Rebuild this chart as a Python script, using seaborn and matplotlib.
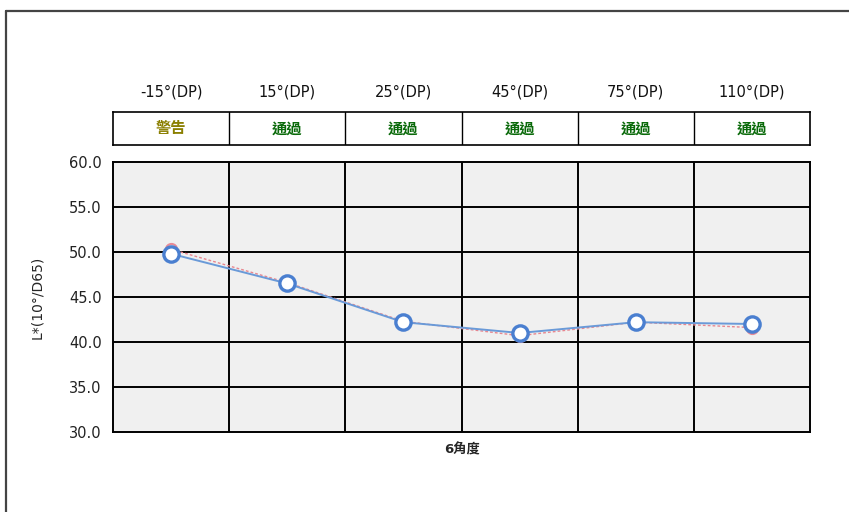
import numpy as np
import pandas as pd
import matplotlib
matplotlib.use("Agg")
import matplotlib.pyplot as plt
import seaborn as sns

# chart data
angles = ["-15°(DP)", "15°(DP)", "25°(DP)", "45°(DP)", "75°(DP)", "110°(DP)"]
status = ["警告", "通過", "通過", "通過", "通過", "通過"]
sample_L = [49.8, 46.5, 42.2, 41.0, 42.2, 42.0]
standard_L = [50.3, 46.6, 42.3, 40.7, 42.2, 41.6]
y_ticks = [30, 35, 40, 45, 50, 55, 60]

status_colors = {"警告": "#8a7f00", "通過": "#0a6a0a"}

sns.set_theme(style="white")
plt.rcParams["font.family"] = ["DejaVu Sans", "Noto Sans CJK TC"]

df = pd.DataFrame({
    "pos": np.arange(len(angles)),
    "sample": sample_L,
    "standard": standard_L,
})

fig = plt.figure(figsize=(8.49, 5.12), dpi=100)
ax = fig.add_axes([0.1331, 0.1563, 0.821, 0.5273])
ax_head = fig.add_axes([0.1331, 0.7168, 0.821, 0.0645])

# main plot
ax.set_facecolor("#f0f0f0")
sns.lineplot(data=df, x="pos", y="standard", ax=ax, color="#e8868f",
             linestyle=(0, (2, 1.5)), linewidth=1.0, marker="o",
             markersize=8, markerfacecolor="white", markeredgecolor="#e88a96",
             markeredgewidth=1.5, zorder=3)
sns.lineplot(data=df, x="pos", y="sample", ax=ax, color="#6a9ad8",
             linewidth=1.4, marker="o", markersize=11,
             markerfacecolor="white", markeredgecolor="#4a7fd0",
             markeredgewidth=2.4, zorder=4)

ax.set_xlim(-0.5, len(angles) - 0.5)
ax.set_ylim(30, 60)
ax.set_yticks(y_ticks)
ax.set_yticklabels([f"{v:.1f}" for v in y_ticks], fontsize=10.5, color="#222222")
ax.set_xticks([])
for y in y_ticks[1:-1]:
    ax.axhline(y, color="black", linewidth=1.4, zorder=1)
for x in np.arange(len(angles) - 1) + 0.5:
    ax.axvline(x, color="black", linewidth=1.4, zorder=1)
for s in ax.spines.values():
    s.set_color("black")
    s.set_linewidth(1.4)
ax.tick_params(axis="y", length=0, pad=8)
ax.set_xlabel("6角度", fontsize=9.5, fontweight="bold", labelpad=8)
ax.set_ylabel("L*(10°/D65)", fontsize=10, labelpad=18)

# header table with pass / warning row
ax_head.set_xlim(-0.5, len(angles) - 0.5)
ax_head.set_ylim(0, 1)
ax_head.set_yticks([])
ax_head.set_xticks(np.arange(len(angles)))
ax_head.xaxis.tick_top()
ax_head.set_xticklabels(angles, fontsize=10.5, color="#111111")
ax_head.tick_params(axis="x", length=0, pad=9)
for x in np.arange(len(angles) - 1) + 0.5:
    ax_head.axvline(x, color="black", linewidth=1.0)
for i, st in enumerate(status):
    ax_head.text(i, 0.5, st, ha="center", va="center", fontsize=11,
                 fontweight="bold", color=status_colors[st],
                 family=["Noto Sans CJK TC", "DejaVu Sans"])
for s in ax_head.spines.values():
    s.set_color("black")
    s.set_linewidth(1.2)

# outer frame lines (left and top)
fig.add_artist(plt.Line2D([0.0075, 0.0075], [0, 0.978], color="#444444", linewidth=1.6))
fig.add_artist(plt.Line2D([0.0075, 1.0], [0.978, 0.978], color="#444444", linewidth=1.6))

fig.savefig("out.png", dpi=100)
